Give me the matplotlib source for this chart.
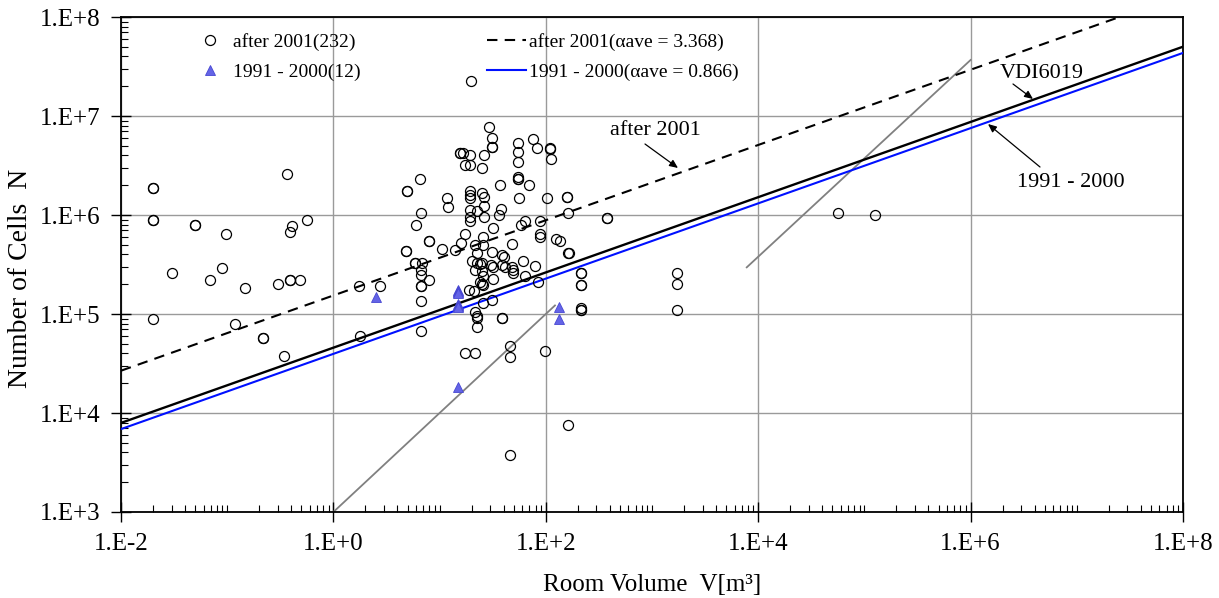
import numpy as np
import matplotlib
matplotlib.use("Agg")
import matplotlib.pyplot as plt
from matplotlib.ticker import FixedLocator, FuncFormatter, NullFormatter

plt.rcParams['font.family'] = ['Liberation Serif', 'DejaVu Serif']

# ---- data: after 2001 (circles) ----
after_V = [0.02, 0.02, 0.02, 0.02, 0.02, 0.05, 0.05, 0.03, 0.098, 0.069, 0.089, 0.147, 0.118,
           0.216, 0.216, 0.30, 0.345, 0.366, 0.39, 0.41, 0.39, 0.39, 0.49, 0.57, 1.73, 1.77, 2.75,
           4.9, 4.9, 6.5, 6.7, 5.96, 8.0, 8.0, 11.7, 11.9, 10.5, 4.8, 4.8, 5.9, 5.9, 6.8, 6.7, 6.7,
           7.9, 6.7, 6.7, 6.7, 6.7,
           19.6, 29.2, 31, 31, 31, 55, 55, 55, 55, 55, 55, 76, 83, 109, 109, 112,
           15.6, 15.6, 16.5, 19.3, 17.5, 19.3, 26.4, 24.9, 37, 70,
           19.3, 19.3, 19.3, 24.9, 26.4, 56, 103, 160, 160, 26.4, 38, 36,
           19.3, 19.3, 19.3, 22.6, 26.4, 163, 374, 374, 64, 58, 88, 88, 88, 32, 17.3, 15.9, 25.8,
           21.5, 25.6, 47.7, 126, 136, 161, 166, 14, 22.4, 20, 31.3, 38.5, 40, 22.4, 24.2, 25.3,
           61, 30.2, 32, 38.5, 41, 47.7, 49, 49, 79, 21.5, 24.9, 25.8, 64, 32, 24.2, 24.9, 25.8,
           85, 213, 213, 213, 213, 1710, 1710, 19, 21, 25.8, 31.3, 21.5, 22.3, 22.6, 39, 39,
           213, 213, 213, 1710, 22.6, 17.3, 21.5, 46, 46, 98, 161, 46, 5.7e4, 1.25e5]
after_N = [1.87e6, 1.87e6, 8.8e5, 8.8e5, 8.8e4, 8.0e5, 8.0e5, 2.6e5, 6.5e5, 2.2e5, 2.9e5, 1.85e5, 8.0e4,
           5.7e4, 5.7e4, 2.0e5, 3.8e4, 2.58e6, 6.7e5, 7.7e5, 2.2e5, 2.2e5, 2.2e5, 9.0e5, 1.93e5, 6.0e4, 1.92e5,
           1.75e6, 1.75e6, 2.3e6, 1.05e6, 8.0e5, 5.5e5, 5.5e5, 1.5e6, 1.2e6, 4.5e5, 4.3e5, 4.3e5, 3.3e5, 3.3e5, 3.3e5, 2.8e5, 2.5e5,
           2.2e5, 1.9e5, 1.9e5, 1.35e5, 6.7e4,
           2.26e7, 7.8e6, 5.96e6, 4.9e6, 4.9e6, 5.3e6, 4.36e6, 3.4e6, 2.4e6, 2.3e6, 2.3e6, 5.8e6, 4.8e6, 4.7e6, 4.6e6, 3.7e6,
           4.27e6, 4.27e6, 4.27e6, 4.0e6, 3.2e6, 3.2e6, 4.0e6, 3.0e6, 2.0e6, 2.0e6,
           1.75e6, 1.6e6, 1.48e6, 1.66e6, 1.53e6, 1.5e6, 1.5e6, 1.53e6, 1.53e6, 1.23e6, 1.14e6, 1.0e6,
           1.12e6, 9.6e5, 8.6e5, 1.1e6, 9.6e5, 1.05e6, 9.3e5, 9.3e5, 8.7e5, 7.9e5, 8.7e5, 6.5e5, 6.0e5, 7.4e5, 6.4e5, 5.2e5, 6.0e5,
           5.0e5, 5.0e5, 5.1e5, 5.7e5, 5.4e5, 4.1e5, 4.1e5, 4.4e5, 4.1e5, 3.4e5, 4.2e5, 3.9e5, 3.8e5, 3.3e5, 3.2e5, 3.3e5,
           3.4e5, 3.1e5, 3.0e5, 3.1e5, 3.0e5, 3.0e5, 2.8e5, 2.6e5, 3.05e5, 2.8e5, 2.7e5, 2.4e5, 2.4e5, 2.24e5, 2.1e5, 2.0e5, 1.95e5,
           2.1e5, 2.58e5, 2.58e5, 1.96e5, 1.96e5, 2.6e5, 2.0e5, 1.75e5, 1.72e5, 1.3e5, 1.38e5, 1.05e5, 9.5e4, 9.1e4, 9.1e4, 9.1e4,
           1.14e5, 1.1e5, 1.1e5, 1.1e5, 7.4e4, 4.06e4, 4.06e4, 4.7e4, 3.7e4, 4.2e4, 7.6e3, 3.77e3, 1.05e6, 1.0e6]

# ---- data: 1991 - 2000 (triangles) ----
old_V = [2.5, 15, 15, 15, 15, 15, 15, 15, 15, 15, 134, 134]
old_N = [1.48e5, 1.75e5, 1.7e5, 1.65e5, 1.62e5, 1.26e5, 1.22e5, 1.2e5, 1.19e5, 1.85e4, 1.19e5, 9.0e4]

# ---- fit lines N = C * V^b ----
vdi_C = 4.57e4
vdi_b = 0.38
alpha_after = 3.368
alpha_old = 0.866
line_V = [1e-2, 1e8]

# ---- grey reference lines ----
grey1_V = [1.0, 122.0]
grey1_N = [1.0e3, 1.22e5]
grey2_V = [7.8e3, 1.0e6]
grey2_N = [2.96e5, 3.68e7]

xticks = [1e-2, 1e0, 1e2, 1e4, 1e6, 1e8]
yticks = [1e3, 1e4, 1e5, 1e6, 1e7, 1e8]

def sci(v, pos=None):
    e = int(round(np.log10(v)))
    return "1.E%s%d" % ("+" if e >= 0 else "-", abs(e))

fig = plt.figure(figsize=(12.19, 5.98), dpi=100)
ax = fig.add_axes([121/1219, 1-512/598, (1183-121)/1219, (512-17)/598])
ax.set_xscale('log')
ax.set_yscale('log')
ax.set_xlim(1e-2, 1e8)
ax.set_ylim(1e3, 1e8)

lv = np.array(line_V)
vdi_N = vdi_C * lv**vdi_b
h_dash, = ax.plot(lv, vdi_N * alpha_after, color='black', lw=1.5, ls=(0, (5, 3.5)), zorder=3)
h_blue, = ax.plot(lv, vdi_N * alpha_old, color='#0010ff', lw=1.5, zorder=3)
ax.plot(lv, vdi_N, color='black', lw=1.7, zorder=3)
ax.plot(grey1_V, grey1_N, color='#808080', lw=1.3, zorder=2)
ax.plot(grey2_V, grey2_N, color='#808080', lw=1.3, zorder=2)

h_circ, = ax.plot(after_V, after_N, ls='none', marker='o', ms=7.2, mfc='none', mec='black', mew=0.9,
                  zorder=4)
h_tri, = ax.plot(old_V, old_N, ls='none', marker='^', ms=7.5, mfc='#6464e6', mec='#4646d2', mew=0.6,
                 zorder=5)

# annotations
def px2data(px, py):
    return 10**(-2 + (px-121)/106.2), 10**(8 - (py-17)/99.0)

ax.text(*px2data(655, 130), 'after 2001', fontsize=16, ha='center', va='center')
ax.text(*px2data(1042, 73), 'VDI6019', fontsize=16, ha='center', va='center')
ax.text(*px2data(1071, 182), '1991 - 2000', fontsize=16, ha='center', va='center')
arrow = dict(arrowstyle='-|>,head_length=0.5,head_width=0.22', color='black', lw=0.9,
             shrinkA=0, shrinkB=0)
ax.annotate('', xy=px2data(678, 168), xytext=px2data(645, 144), arrowprops=arrow)
ax.annotate('', xy=px2data(1033, 99), xytext=px2data(1013, 84), arrowprops=arrow)
ax.annotate('', xy=px2data(988, 124), xytext=px2data(1040, 167), arrowprops=arrow)

# ticks
ax.xaxis.set_major_locator(FixedLocator(xticks))
ax.yaxis.set_major_locator(FixedLocator(yticks))
xminor = [m * 10.0**k for k in range(-2, 8) for m in range(2, 11) if m * 10.0**k not in xticks]
yminor = [m * 10.0**k for k in range(3, 8) for m in range(2, 10)]
ax.xaxis.set_minor_locator(FixedLocator(xminor))
ax.yaxis.set_minor_locator(FixedLocator(yminor))
ax.xaxis.set_major_formatter(FuncFormatter(sci))
ax.yaxis.set_major_formatter(FuncFormatter(sci))
ax.xaxis.set_minor_formatter(NullFormatter())
ax.yaxis.set_minor_formatter(NullFormatter())
ax.tick_params(which='major', direction='inout', length=14, width=1, labelsize=18)
ax.tick_params(axis='x', which='major', pad=8)
ax.tick_params(axis='y', which='major', pad=8)
ax.tick_params(which='minor', direction='in', length=5, width=0.8)

ax.grid(True, which='major', color='#9a9a9a', lw=1.0, zorder=0)
for s in ax.spines.values():
    s.set_linewidth(1.3)
    s.set_color('black')

ax.set_xlabel('Room Volume  V[m\u00b3]', fontsize=18, labelpad=14)
ax.set_ylabel('Number of Cells  N', fontsize=20)
ax.yaxis.set_label_coords(-(121-33)/1062, 1-(278-17)/495)

leg = ax.legend([h_circ, h_tri, h_dash, h_blue],
                ['after 2001(232)', '1991 - 2000(12)',
                 'after 2001(\u03b1ave = 3.368)', '1991 - 2000(\u03b1ave = 0.866)'],
                ncol=2, loc='upper left', bbox_to_anchor=(191/1219, 1-33/598),
                bbox_transform=fig.transFigure,
                frameon=False, fontsize=14, handlelength=2.0, handletextpad=0.15,
                columnspacing=6.5, labelspacing=0.62, borderpad=0, borderaxespad=0)

fig.savefig('out.png', dpi=100)
